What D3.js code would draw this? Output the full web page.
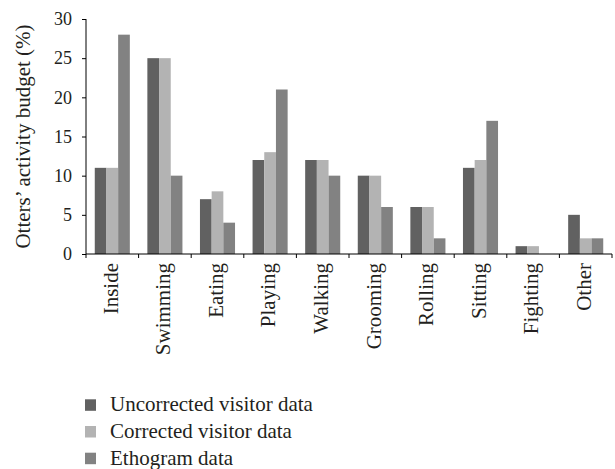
<!DOCTYPE html>
<html>
<head>
<meta charset="utf-8">
<script src="https://cdn.jsdelivr.net/npm/d3@7"></script>
<style>
  html, body { margin: 0; padding: 0; background: #fff; }
  svg { display: block; font-family: "Liberation Serif", "Times New Roman", serif; }
  text { font-family: "Liberation Serif", "Times New Roman", serif; fill: #231f20; }
</style>
</head>
<body>
<svg id="chart" width="615" height="469"></svg>
<script>
const categories = ["Inside", "Swimming", "Eating", "Playing", "Walking", "Grooming", "Rolling", "Sitting", "Fighting", "Other"];
const seriesNames = ["Uncorrected visitor data", "Corrected visitor data", "Ethogram data"];
const uncorrected = [11, 25, 7, 12, 12, 10, 6, 11, 1, 5];
const corrected   = [11, 25, 8, 13, 12, 10, 6, 12, 1, 2];
const ethogram    = [28, 10, 4, 21, 10, 6, 2, 17, 0, 2];
const yTicks = [0, 5, 10, 15, 20, 25, 30];
const colors = ["#616161", "#b3b3b3", "#828282"];
const yTitle = "Otters\u2019 activity budget (%)";

(function () {
const series = [uncorrected, corrected, ethogram];
const svg = d3.select("#chart");

const pL = 86, pR = 612, pT = 19, pB = 254;

const x0 = d3.scaleBand().domain(categories).range([pL, pR])
  .paddingInner(1/3).paddingOuter(1/6);
const x1 = d3.scaleBand().domain(d3.range(series.length)).range([0, x0.bandwidth()]);
const y = d3.scaleLinear().domain([0, 30]).range([pB, pT]);

// bars
const groups = svg.append("g").selectAll("g").data(categories).join("g")
  .attr("transform", d => `translate(${x0(d)},0)`);
groups.selectAll("rect")
  .data((d, i) => series.map((s, k) => ({k, v: s[i]})))
  .join("rect")
  .attr("x", d => x1(d.k))
  .attr("width", x1.bandwidth())
  .attr("y", d => y(d.v))
  .attr("height", d => pB - y(d.v))
  .attr("fill", d => colors[d.k]);

// y axis
const yAxis = svg.append("g").attr("transform", `translate(${pL},0)`)
  .call(d3.axisLeft(y).tickValues(yTicks).tickSize(4).tickPadding(10));
yAxis.attr("font-family", null).attr("font-size", null);
yAxis.select(".domain").attr("stroke", "#000").attr("d", `M0,${pT}V${pB}`);
yAxis.selectAll(".tick line").attr("stroke", "#000");
yAxis.selectAll(".tick text").attr("font-size", 18).attr("fill", "#231f20");

// x axis line and boundary ticks
const step = x0.step();
svg.append("line").attr("x1", pL).attr("x2", pR).attr("y1", pB).attr("y2", pB)
  .attr("stroke", "#000");
const bounds = d3.range(categories.length + 1).map(i => pL + i * step);
svg.append("g").selectAll("line").data(bounds).join("line")
  .attr("x1", d => d).attr("x2", d => d)
  .attr("y1", pB).attr("y2", pB + 4).attr("stroke", "#000");

// category labels
svg.append("g").selectAll("text").data(categories).join("text")
  .attr("transform", d => `translate(${x0(d) + x0.bandwidth() / 2},${pB + 9}) rotate(-90)`)
  .attr("text-anchor", "end")
  .attr("dy", "0.25em")
  .attr("font-size", 21)
  .text(d => d);

// y title
svg.append("text")
  .attr("transform", `translate(30,${(pT + pB) / 2}) rotate(-90)`)
  .attr("text-anchor", "middle")
  .attr("font-size", 21)
  .text(yTitle);

// legend
const legend = svg.append("g").selectAll("g").data(seriesNames).join("g")
  .attr("transform", (d, i) => `translate(85,${399.3 + i * 26.7})`);
legend.append("rect").attr("width", 11).attr("height", 11.5).attr("fill", (d, i) => colors[i]);
legend.append("text").attr("x", 25).attr("y", 12)
  .attr("font-size", 21).text(d => d);
})();
</script>
</body>
</html>
